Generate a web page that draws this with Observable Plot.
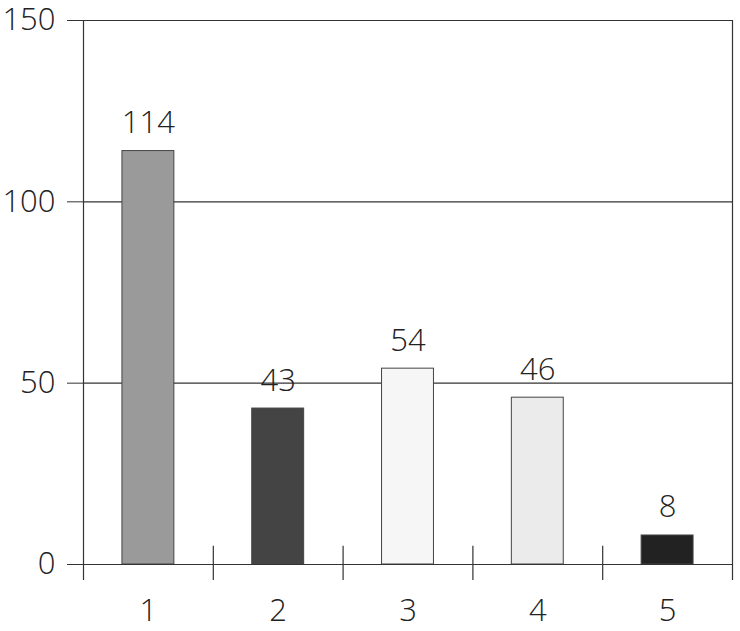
<!DOCTYPE html>
<html>
<head>
<meta charset="utf-8">
<script src="https://cdn.jsdelivr.net/npm/d3@7"></script>
<script src="https://cdn.jsdelivr.net/npm/@observablehq/plot@0.6"></script>
<style>
  body { margin: 0; background: #fff; }
  svg { font-family: "Open Sans", sans-serif; }
</style>
</head>
<body>
<div id="chart"></div>
<script>
const categories = [1, 2, 3, 4, 5];
const values = [114, 43, 54, 46, 8];
const fills = ["#9a9a9a", "#444444", "#f6f6f6", "#ebebeb", "#222222"];
const yTicks = [0, 50, 100, 150];
const separators = [0.5, 1.5, 2.5, 3.5, 4.5, 5.5];

const data = categories.map((c, i) => ({cat: c, value: values[i], fill: fills[i]}));
const halfBar = 0.2;

const plot = Plot.plot({
  width: 740,
  height: 631,
  marginLeft: 83,
  marginRight: 8,
  marginTop: 20,
  marginBottom: 67,
  x: {type: "linear", domain: [0.5, 5.5], label: null},
  y: {domain: [0, 150], label: null},
  style: {fontFamily: "'Open Sans', sans-serif", fontSize: "31px", color: "#222"},
  marks: [
    Plot.ruleY(yTicks, {y: d => d, x1: 0.5, x2: 5.5, stroke: "#333", strokeWidth: 1.2}),
    Plot.rectY(data, {x1: d => d.cat - halfBar, x2: d => d.cat + halfBar, y1: 0, y2: "value", fill: "fill", stroke: "#444", strokeWidth: 1}),
    Plot.ruleY([0], {x1: 0.5, x2: 5.5, stroke: "#333", strokeWidth: 1.2}),
    Plot.ruleX(separators.filter(s => s > 0.5 && s < 5.5), {x: d => d, y1: -4.4, y2: 5, stroke: "#333", strokeWidth: 1.2}),
    Plot.ruleX([0.5, 5.5], {x: d => d, y1: -4.4, y2: 150, stroke: "#333", strokeWidth: 1.2}),
    Plot.text(data, {x: "cat", y: "value", text: d => String(d.value), lineAnchor: "bottom", dy: -18, fontSize: 31, fill: "#222", fontWeight: 300}),
    Plot.axisY({ticks: yTicks, tickSize: 16, tickPadding: 12, tickFormat: d => String(d), fontSize: 31, fontWeight: 300, stroke: "#333", label: null}),
    Plot.axisX({ticks: categories, tickSize: 0, tickPadding: 34, tickFormat: d => String(d), fontSize: 31, fontWeight: 300, label: null})
  ]
});
document.getElementById("chart").appendChild(plot);
</script>
</body>
</html>
